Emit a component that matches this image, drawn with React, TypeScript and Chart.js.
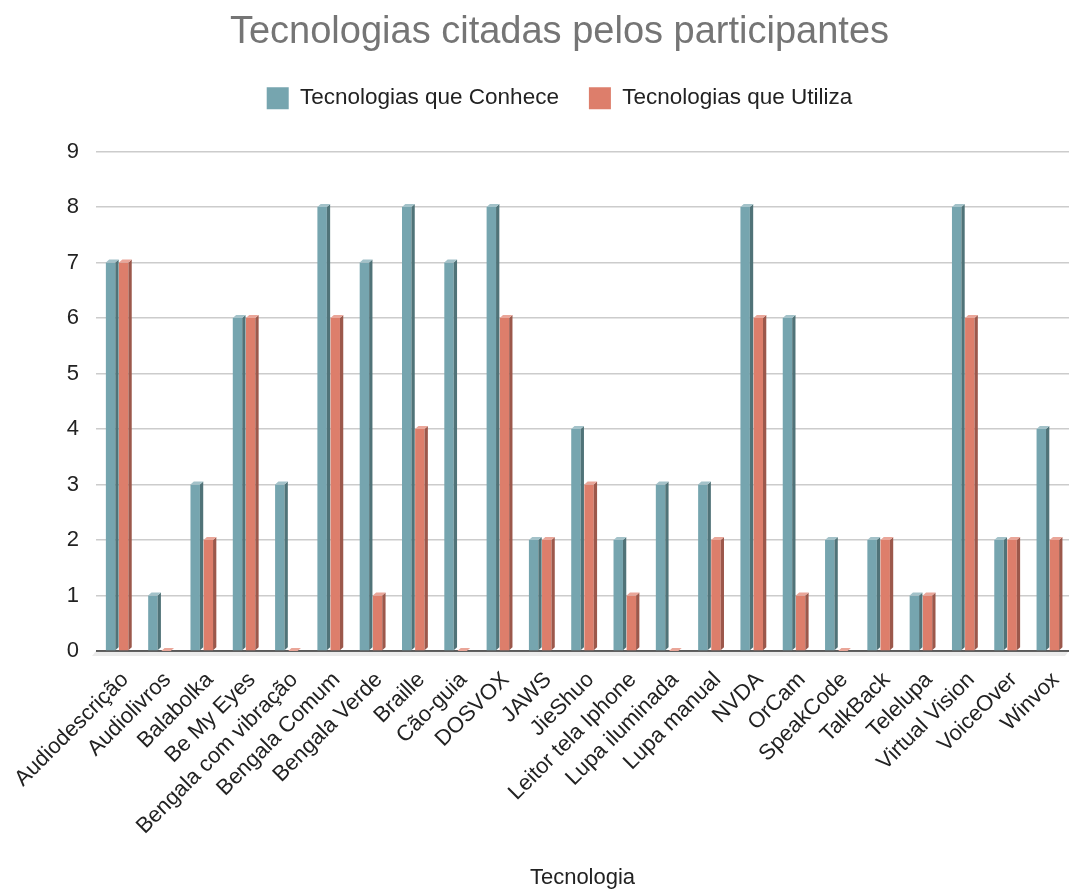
import React, { useEffect, useRef } from "react";
import { Chart, registerables } from "chart.js";

Chart.register(...registerables);

const categories = [
  "Audiodescrição", "Audiolivros", "Balabolka", "Be My Eyes", "Bengala com vibração",
  "Bengala Comum", "Bengala Verde", "Braille", "Cão-guia", "DOSVOX", "JAWS", "JieShuo",
  "Leitor tela Iphone", "Lupa iluminada", "Lupa manual", "NVDA", "OrCam", "SpeakCode",
  "TalkBack", "Telelupa", "Virtual Vision", "VoiceOver", "Winvox",
];
const conhece = [7, 1, 3, 6, 3, 8, 7, 8, 7, 8, 2, 4, 2, 3, 3, 8, 6, 2, 2, 1, 8, 2, 4];
const utiliza = [7, 0, 2, 6, 0, 6, 1, 4, 0, 6, 2, 3, 1, 0, 2, 6, 1, 0, 2, 1, 6, 2, 2];
const yTicks = [0, 1, 2, 3, 4, 5, 6, 7, 8, 9];

const FONT = "'Liberation Sans', Arial, sans-serif";
const faces = [
  { front: "#76a5af", side: "#507378", top: "#a3c2c9" },
  { front: "#dd7e6b", side: "#9c584b", top: "#eaa699" },
];

const LEGEND_EXTRA = 32;

const bar3d = {
  id: "bar3d",
  beforeLayout(chart: any) {
    const lg = chart.legend;
    if (lg && !lg.__patched) {
      const orig = lg.fit;
      lg.fit = function () {
        orig.call(this);
        this.height += LEGEND_EXTRA;
      };
      lg.__patched = true;
    }
  },
  beforeDatasetsDraw(chart: any) {
    const { ctx, chartArea } = chart;
    const y0 = chart.scales.y.getPixelForValue(0);
    ctx.save();
    ctx.fillStyle = "#ebebeb";
    ctx.beginPath();
    ctx.moveTo(chartArea.left, y0);
    ctx.lineTo(chartArea.right, y0);
    ctx.lineTo(chartArea.right - 4, y0 + 5);
    ctx.lineTo(chartArea.left - 4, y0 + 5);
    ctx.closePath();
    ctx.fill();
    ctx.strokeStyle = "#333333";
    ctx.lineWidth = 1.5;
    ctx.beginPath();
    ctx.moveTo(chartArea.left, y0);
    ctx.lineTo(chartArea.right, y0);
    ctx.stroke();
    ctx.restore();
  },
  afterDatasetsDraw(chart: any) {
    const { ctx } = chart;
    const dx = 3.3;
    const dy = 3;
    ctx.save();
    chart.data.datasets.forEach((_: any, di: number) => {
      const meta = chart.getDatasetMeta(di);
      const f = faces[di];
      meta.data.forEach((bar: any) => {
        const { x, y, base, width } = bar.getProps(["x", "y", "base", "width"], true);
        const l = x - width / 2;
        const r = x + width / 2;
        if (base - y > 0.5) {
          ctx.fillStyle = f.side;
          ctx.beginPath();
          ctx.moveTo(r, y);
          ctx.lineTo(r + dx, y - dy);
          ctx.lineTo(r + dx, base - dy);
          ctx.lineTo(r, base);
          ctx.closePath();
          ctx.fill();
        }
        ctx.fillStyle = f.top;
        ctx.beginPath();
        ctx.moveTo(l, y);
        ctx.lineTo(r, y);
        ctx.lineTo(r + dx, y - dy);
        ctx.lineTo(l + dx, y - dy);
        ctx.closePath();
        ctx.fill();
      });
    });
    ctx.restore();
  },
};

export default function App() {
  const ref = useRef<HTMLCanvasElement>(null);
  useEffect(() => {
    if (!ref.current) return;
    const chart = new Chart(ref.current, {
      type: "bar",
      data: {
        labels: categories,
        datasets: [
          { label: "Tecnologias que Conhece", data: conhece, backgroundColor: faces[0].front, categoryPercentage: 0.62, barPercentage: 0.72 },
          { label: "Tecnologias que Utiliza", data: utiliza, backgroundColor: faces[1].front, categoryPercentage: 0.62, barPercentage: 0.72 },
        ],
      },
      options: {
        responsive: false,
        animation: false,
        layout: { padding: { left: 50, right: 0, top: 0, bottom: 0 } },
        plugins: {
          title: {
            display: true,
            text: "Tecnologias citadas pelos participantes",
            color: "#757575",
            font: { family: FONT, size: 38, weight: "normal" },
            padding: { top: 10, bottom: 1.4 },
          },
          legend: {
            display: true,
            labels: {
              color: "#222222",
              font: { family: FONT, size: 22.5 },
              boxWidth: 22,
              boxHeight: 22,
              padding: 30,
            },
          },
          tooltip: { enabled: false },
        },
        scales: {
          x: {
            grid: { display: false, drawTicks: false },
            border: { display: false },
            ticks: {
              autoSkip: false,
              minRotation: 45,
              maxRotation: 45,
              color: "#222222",
              font: { family: FONT, size: 22 },
              padding: 16,
              labelOffset: 8,
            },
            title: {
              display: true,
              text: "Tecnologia",
              color: "#222222",
              font: { family: FONT, size: 22, lineHeight: 1 },
              padding: 0,
            },
            afterFit: (s: any) => {
              s.height = 238;
              s.paddingLeft = 0;
              s.paddingRight = 0;
            },
          },
          y: {
            min: 0,
            max: 9,
            afterBuildTicks: (s: any) => {
              s.ticks = yTicks.map((v) => ({ value: v }));
            },
            grid: { color: "#cccccc", lineWidth: 1.4, drawTicks: false },
            border: { display: false },
            ticks: {
              color: "#222222",
              font: { family: FONT, size: 22 },
              padding: 17,
            },
            afterFit: (s: any) => {
              s.width = 46;
            },
          },
        },
      },
      plugins: [bar3d],
    });
    return () => chart.destroy();
  }, []);
  return (
    <div style={{ position: "fixed", left: 0, top: 0, width: 1069, height: 889, background: "#fff" }}>
      <canvas ref={ref} width={1069} height={889} style={{ width: 1069, height: 889 }} />
    </div>
  );
}
